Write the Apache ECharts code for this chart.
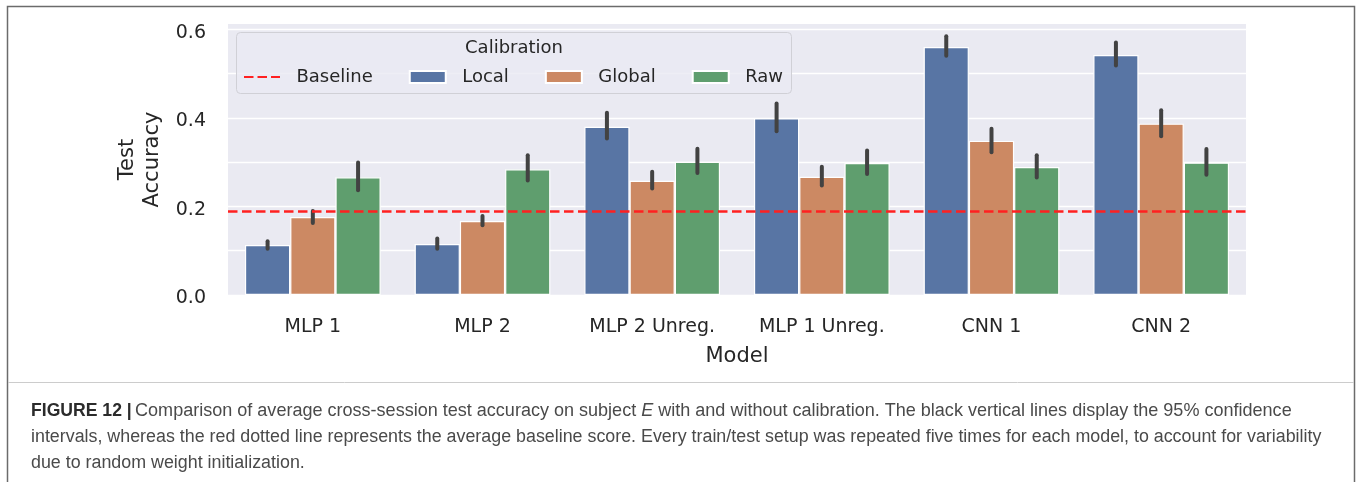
<!DOCTYPE html>
<html>
<head>
<meta charset="utf-8">
<title>Test accuracy with and without calibration</title>
<script src="https://cdn.jsdelivr.net/npm/echarts@6/dist/echarts.min.js"></script>
<style>
  html, body { margin: 0; padding: 0; background: #ffffff; }
  #chart { width: 1360px; height: 482px; }
</style>
</head>
<body>
<div id="chart"></div>
<script>
// Models on the x axis
const categories = ['MLP 1', 'MLP 2', 'MLP 2 Unreg.', 'MLP 1 Unreg.', 'CNN 1', 'CNN 2'];

// Mean test accuracy per calibration mode
const localAcc  = [0.113, 0.115, 0.380, 0.399, 0.560, 0.542];
const globalAcc = [0.176, 0.167, 0.258, 0.267, 0.348, 0.387];
const rawAcc    = [0.266, 0.284, 0.301, 0.298, 0.289, 0.299];

// 95% confidence intervals (low / high)
const localLo  = [0.100, 0.100, 0.349, 0.365, 0.536, 0.514];
const localHi  = [0.126, 0.132, 0.416, 0.437, 0.589, 0.575];
const globalLo = [0.158, 0.153, 0.236, 0.243, 0.318, 0.354];
const globalHi = [0.194, 0.183, 0.283, 0.294, 0.380, 0.422];
const rawLo    = [0.232, 0.254, 0.271, 0.269, 0.261, 0.267];
const rawHi    = [0.304, 0.320, 0.335, 0.331, 0.320, 0.334];

// Average baseline score
const baseline = 0.194;

// Y axis range and tick step
const yMin = 0;
const yMax = 0.612;
const yStep = 0.1;

const COLORS = { Local: '#5875A4', Global: '#CC8963', Raw: '#5F9E6E' };
const TEXT = '#262626';
const FONT = 'DejaVu Sans';
const RED = '#ff2020';

const chart = echarts.init(document.getElementById('chart'), null, { renderer: 'canvas' });

function ciData(lo, hi) {
  return categories.map((c, i) => [i, lo[i], hi[i]]);
}

// Vertical confidence-interval line at the centre of bar k within each group
function ciRenderer(k) {
  return function (params, api) {
    const idx = api.value(0);
    const center = api.coord([idx, 0])[0];
    const band = api.size([1, 0])[0];
    const barW = band * 0.8 / 3;
    const cx = center + (k - 1) * barW;
    const yHi = api.coord([idx, api.value(2)])[1];
    const yLo = api.coord([idx, api.value(1)])[1];
    const lw = 4;
    return {
      type: 'line',
      shape: { x1: cx, y1: yHi + lw / 2, x2: cx, y2: yLo - lw / 2 },
      style: { stroke: '#424242', lineWidth: lw, lineCap: 'round' }
    };
  };
}

function barSeries(name, values) {
  return {
    name: name,
    type: 'bar',
    data: values,
    barGap: '0%',
    barCategoryGap: '20%',
    itemStyle: { color: COLORS[name], borderColor: '#ffffff', borderWidth: 1.2 },
    z: 2
  };
}

function ciSeries(name, k, lo, hi) {
  return {
    name: name,
    type: 'custom',
    renderItem: ciRenderer(k),
    data: ciData(lo, hi),
    encode: { x: 0, y: [1, 2] },
    silent: true,
    z: 3
  };
}

const captionBody = '#4a4a4a';
const CAP = '17.85px "Liberation Sans"';
const CAP1 = '18.05px "Liberation Sans"';

const option = {
  animation: false,
  backgroundColor: '#ffffff',
  textStyle: { fontFamily: FONT },
  grid: {
    left: 228, top: 24, width: 1018, height: 271,
    show: true, backgroundColor: '#EAEAF2', borderWidth: 0
  },
  legend: {
    left: 238, top: 63,
    itemWidth: 36, itemHeight: 12,
    itemGap: 36,
    selectedMode: false,
    formatter: function (name) { return '  ' + name; },
    textStyle: { fontFamily: FONT, fontSize: 18, color: TEXT },
    data: [
      { name: 'Baseline', itemStyle: { opacity: 0 } },
      { name: 'Local', icon: 'rect' },
      { name: 'Global', icon: 'rect' },
      { name: 'Raw', icon: 'rect' }
    ],
    z: 6
  },
  xAxis: {
    type: 'category',
    data: categories,
    axisLine: { show: false },
    axisTick: { show: false },
    axisLabel: { fontFamily: FONT, fontSize: 19, color: TEXT, margin: 23 },
    name: 'Model',
    nameLocation: 'middle',
    nameGap: 51,
    nameTextStyle: { fontFamily: FONT, fontSize: 21, color: TEXT }
  },
  yAxis: {
    type: 'value',
    min: yMin, max: yMax, interval: yStep,
    axisLine: { show: false },
    axisTick: { show: false },
    splitLine: { show: true, showMaxLine: false, lineStyle: { color: '#ffffff', width: 1.3 } },
    axisLabel: {
      fontFamily: FONT, fontSize: 19, color: TEXT, margin: 22,
      verticalAlign: 'top', lineHeight: 7,
      formatter: function (v) {
        const t = v * 10;
        const r = Math.round(t);
        if (Math.abs(t - r) > 1e-6) return '';
        return r % 2 === 0 ? v.toFixed(1) : '';
      }
    },
    name: 'Test\nAccuracy',
    nameLocation: 'middle',
    nameRotate: 90,
    nameGap: 59,
    nameTextStyle: { fontFamily: FONT, fontSize: 21, color: TEXT, lineHeight: 25 }
  },
  series: [
    {
      name: 'Baseline',
      type: 'line',
      data: categories.map(() => null),
      symbol: 'none',
      showSymbol: false,
      lineStyle: { color: RED, type: [9.5, 4], width: 2.5 },
      itemStyle: { color: RED },
      markLine: {
        silent: true,
        symbol: 'none',
        label: { show: false },
        lineStyle: { color: RED, type: [9.5, 4.5], width: 2.6 },
        data: [{ yAxis: baseline }]
      },
      z: 4
    },
    barSeries('Local', localAcc),
    barSeries('Global', globalAcc),
    barSeries('Raw', rawAcc),
    ciSeries('Local CI', 0, localLo, localHi),
    ciSeries('Global CI', 1, globalLo, globalHi),
    ciSeries('Raw CI', 2, rawLo, rawHi)
  ],
  graphic: [
    // Figure frame
    {
      type: 'polyline', silent: true, z: 10,
      shape: { points: [[7.5, 482], [7.5, 6.5], [1354.5, 6.5], [1354.5, 482]] },
      style: { stroke: '#6b6b6b', lineWidth: 1.5, fill: null }
    },
    // Rule between chart and caption
    {
      type: 'line', silent: true, z: 10,
      shape: { x1: 8, y1: 382.5, x2: 1354, y2: 382.5 },
      style: { stroke: '#cccccc', lineWidth: 1 }
    },
    // Legend frame and title
    {
      type: 'rect', silent: true, z: 5,
      shape: { x: 236.5, y: 32.5, width: 555, height: 61, r: 4 },
      style: { fill: 'rgba(234,234,242,0.8)', stroke: '#d0d0d6', lineWidth: 1 }
    },
    {
      type: 'text', silent: true, z: 6,
      x: 514, y: 48,
      style: { text: 'Calibration', font: '18px "DejaVu Sans"', fill: TEXT, align: 'center', verticalAlign: 'middle' }
    },
    // Caption
    {
      type: 'text', silent: true, z: 10, x: 31, y: 411,
      style: {
        text: '{b|FIGURE 12 |} {n|Comparison of average cross-session test accuracy on subject }{i|E}{n| with and without calibration. The black vertical lines display the 95% confidence}',
        verticalAlign: 'middle',
        rich: {
          b: { font: 'bold 17.6px "Liberation Sans"', fill: '#2b2b2b' },
          n: { font: CAP1, fill: captionBody },
          i: { font: 'italic ' + CAP1, fill: captionBody }
        }
      }
    },
    {
      type: 'text', silent: true, z: 10, x: 31, y: 437,
      style: {
        text: 'intervals, whereas the red dotted line represents the average baseline score. Every train/test setup was repeated five times for each model, to account for variability',
        font: CAP, fill: captionBody, verticalAlign: 'middle'
      }
    },
    {
      type: 'text', silent: true, z: 10, x: 31, y: 463,
      style: {
        text: 'due to random weight initialization.',
        font: CAP, fill: captionBody, verticalAlign: 'middle'
      }
    }
  ]
};

chart.setOption(option);
</script>
</body>
</html>
